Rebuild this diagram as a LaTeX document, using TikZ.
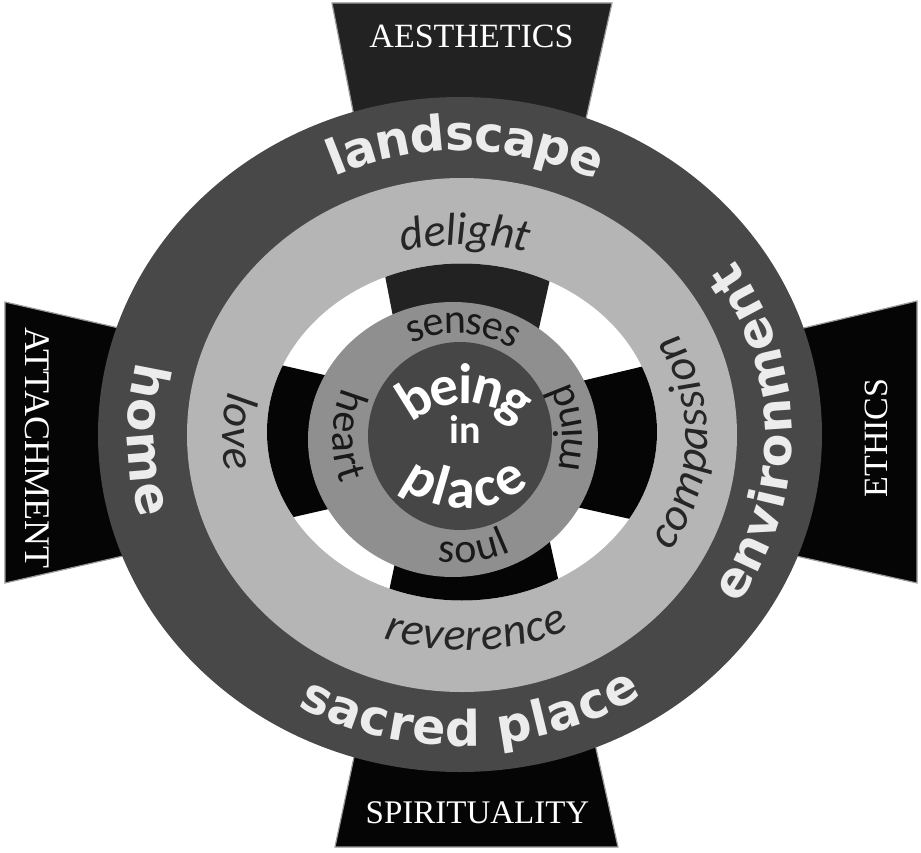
\documentclass[tikz,border=0pt]{standalone}
\usepackage{fontspec}
\setmainfont{Liberation Serif}
\newfontfamily\ringfont{DejaVu Sans}
\newfontfamily\calfont{Carlito}
\usetikzlibrary{decorations.text}
\definecolor{outerring}{HTML}{484848}
\definecolor{lightring}{HTML}{B5B5B5}
\definecolor{midring}{HTML}{8F8F8F}
\definecolor{core}{HTML}{464646}
\definecolor{armtop}{HTML}{222222}
\definecolor{armblk}{HTML}{050505}
\definecolor{ringtxt}{HTML}{ECECEC}
\definecolor{armedge}{HTML}{9A9A9A}
\newcommand\outerfmt{\ringfont\bfseries\fontsize{49}{60}\selectfont\color{ringtxt}}
\newcommand\handfmt{\calfont\itshape\fontsize{46}{50}\selectfont\color{black!85}}
\newcommand\midfmt{\calfont\fontsize{42}{50}\selectfont\color{black!90}}
\newcommand\corefmt{\calfont\bfseries\fontsize{57}{60}\selectfont\color{white}}
\tikzset{
  armshape/.style={draw=armedge, line width=1.2pt},
  curvetext/.style={decorate, decoration={text along path, text align=center, text={#1}}},
  captext/.style={text=white, inner sep=0pt},
}
\begin{document}
\begin{tikzpicture}[x=1pt,y=1pt]
\useasboundingbox (-460,-417) rectangle (461,435);
\fill[white] (-460,-417) rectangle (461,435);
% arms of the cross
\path[armshape, fill=armtop] (-128,432) -- (152,432) -- (55,0) -- (-44,0) -- cycle;
\path[armshape, fill=armblk] (-125,-412) -- (158,-412) -- (66,0) -- (-38,0) -- cycle;
\path[armshape, fill=armblk] (-455,133) -- (-455,-148) -- (0,-44) -- (0,29) -- cycle;
\path[armshape, fill=armblk] (457,134) -- (457,-148) -- (0,-46) -- (0,25) -- cycle;
% rings
\fill[outerring] (0,0.5) ellipse [x radius=362, y radius=337.5];
\fill[lightring] (2,0) ellipse [x radius=275, y radius=257];
\fill[white] (2,3) ellipse [x radius=195, y radius=168.5];
\begin{scope}
  \clip (2,3) ellipse [x radius=195, y radius=168.5];
  \fill[armtop] (-128,432) -- (152,432) -- (55,0) -- (-44,0) -- cycle;
  \fill[armblk] (-125,-412) -- (158,-412) -- (66,0) -- (-38,0) -- cycle;
  \fill[armblk] (-455,133) -- (-455,-148) -- (0,-44) -- (0,29) -- cycle;
  \fill[armblk] (457,134) -- (457,-148) -- (0,-46) -- (0,25) -- cycle;
\end{scope}
\fill[midring] (-7,-4.5) ellipse [x radius=145, y radius=137.5];
\fill[core] (0,-1) ellipse [x radius=92, y radius=94];
% arm captions
\node[captext, font=\fontsize{34}{40}\selectfont] (aes) at (11.5,399) {AESTHETICS};
\node[captext, font=\fontsize{33}{40}\selectfont] (spi) at (17.5,-377.5) {SPIRITUALITY};
\node[captext, font=\fontsize{36}{40}\selectfont, rotate=-90] (att) at (-423,-13) {ATTACHMENT};
\node[captext, font=\fontsize{34}{40}\selectfont, rotate=90] (eth) at (416,-3) {ETHICS};
% outer ring words
\path[curvetext={|\outerfmt|landscape}, decoration={raise=-13.4pt}]
  (135:318.5 and 297.5) arc[start angle=135, end angle=43, x radius=318.5, y radius=297.5];
\path[curvetext={|\outerfmt|environment}, decoration={raise=-13.4pt}]
  (-45:318.5 and 297.5) arc[start angle=-45, end angle=46, x radius=318.5, y radius=297.5];
\path[curvetext={|\outerfmt|home}, decoration={raise=-13.4pt}]
  (150:318.5 and 297.5) arc[start angle=150, end angle=212, x radius=318.5, y radius=297.5];
\path[curvetext={|\outerfmt|sacred place}, decoration={raise=-13.4pt}]
  (225:318.5 and 297.5) arc[start angle=225, end angle=319, x radius=318.5, y radius=297.5];
% light ring words
\path[curvetext={|\handfmt|delight}, decoration={raise=-10.5pt}]
  ([shift={(5,-2)}]125:232 and 203) arc[start angle=125, end angle=55, x radius=232, y radius=203];
\path[curvetext={|\handfmt|compassion}, decoration={raise=-10.5pt}]
  ([shift={(5,-2)}]-50:232 and 203) arc[start angle=-50, end angle=47, x radius=232, y radius=203];
\path[curvetext={|\handfmt|love}, decoration={raise=-10.5pt}]
  ([shift={(5,-2)}]150:232 and 203) arc[start angle=150, end angle=207, x radius=232, y radius=203];
\path[curvetext={|\handfmt|reverence}, decoration={raise=-10.5pt}]
  ([shift={(5,-2)}]235:232 and 203) arc[start angle=235, end angle=311, x radius=232, y radius=203];
% middle ring words
\path[curvetext={|\midfmt|senses}, decoration={raise=-9.8pt}]
  ([shift={(-2.5,-3.5)}]135:115) arc[start angle=135, end angle=39, radius=115];
\path[curvetext={|\midfmt|heart}, decoration={raise=-9.8pt}]
  ([shift={(-2.5,-3.5)}]130:115) arc[start angle=130, end angle=227, radius=115];
\path[curvetext={|\midfmt|mind}, decoration={raise=-9.8pt}]
  ([shift={(-2.5,-3.5)}]-45:115) arc[start angle=-45, end angle=56, radius=115];
\path[curvetext={|\midfmt|soul}, decoration={raise=-9.8pt}]
  ([shift={(-2.5,-3.5)}]230:115) arc[start angle=230, end angle=326, radius=115];
% core words
\path[curvetext={|\corefmt|being}, decoration={raise=-13.3pt}]
  ([shift={(5,-45)}]150:90) arc[start angle=150, end angle=30, radius=90];
\path[curvetext={|\corefmt|place}, decoration={raise=-13.3pt}]
  ([shift={(5,28)}]210:88) arc[start angle=210, end angle=330, radius=88];
\node[anchor=base, text=white, inner sep=0pt, font=\calfont\bfseries\fontsize{40}{44}\selectfont] (in) at (5,-8) {in};
\end{tikzpicture}
\end{document}
